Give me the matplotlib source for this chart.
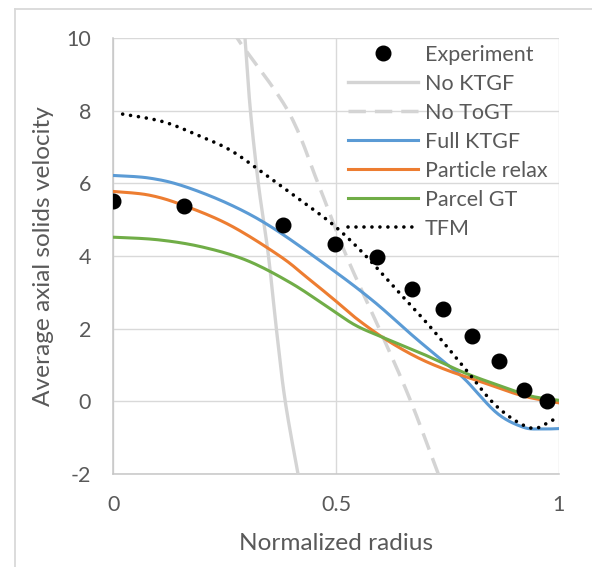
import numpy as np
import matplotlib
matplotlib.use("Agg")
import matplotlib.pyplot as plt
from matplotlib.lines import Line2D

plt.rcParams['font.family'] = ['Lato', 'DejaVu Sans']

# ---------------- data ----------------
exp_x = [0.0, 0.159, 0.381, 0.498, 0.591, 0.670, 0.741, 0.806, 0.866, 0.922, 0.974]
exp_y = [5.51, 5.39, 4.85, 4.34, 3.98, 3.10, 2.54, 1.79, 1.10, 0.32, 0.02]

no_ktgf_x = [0.294, 0.296, 0.308, 0.326, 0.348, 0.367, 0.386, 0.415, 0.421]
no_ktgf_y = [10.4, 9.95, 7.98, 5.96, 4.04, 1.90, 0.0, -2.02, -2.4]

no_togt_x = [0.275, 0.281, 0.393, 0.461, 0.522, 0.603, 0.668, 0.730, 0.742]
no_togt_y = [10.2, 9.95, 7.98, 5.96, 4.04, 1.84, 0.0, -2.02, -2.4]

full_x = [0.0, 0.08, 0.157, 0.262, 0.359, 0.487, 0.584, 0.674, 0.749, 0.79, 0.861, 0.920, 0.96, 1.0]
full_y = [6.22, 6.15, 5.93, 5.42, 4.77, 3.67, 2.76, 1.79, 1.02, 0.60, -0.32, -0.71, -0.76, -0.75]

relax_x = [0.0, 0.08, 0.157, 0.262, 0.374, 0.434, 0.494, 0.546, 0.61, 0.681, 0.749, 0.823, 0.920, 1.0]
relax_y = [5.78, 5.68, 5.40, 4.85, 4.00, 3.42, 2.82, 2.28, 1.72, 1.22, 0.86, 0.55, 0.15, -0.04]

parcel_x = [0.0, 0.1, 0.2, 0.3, 0.4, 0.487, 0.546, 0.614, 0.696, 0.786, 0.861, 0.936, 1.0]
parcel_y = [4.52, 4.45, 4.25, 3.88, 3.25, 2.55, 2.08, 1.72, 1.30, 0.80, 0.46, 0.15, 0.03]

tfm_x = [0.021, 0.112, 0.195, 0.265, 0.344, 0.419, 0.494, 0.561, 0.636, 0.711, 0.786, 0.861, 0.936, 0.981, 1.0]
tfm_y = [7.91, 7.70, 7.30, 6.90, 6.22, 5.55, 4.86, 4.08, 3.07, 2.06, 0.96, -0.14, -0.73, -0.55, -0.41]

labels = ["Experiment", "No KTGF", "No ToGT", "Full KTGF", "Particle relax", "Parcel GT", "TFM"]
x_ticks = [0, 0.5, 1]
x_tick_labels = ["0", "0.5", "1"]
y_ticks = [-2, 0, 2, 4, 6, 8, 10]
x_label = "Normalized radius"
y_label = "Average axial solids velocity"


def smooth(xs, ys, n=16):
    """Catmull-Rom rendering of a smoothed line through the given points."""
    p = np.column_stack([xs, ys]).astype(float)
    p = np.vstack([p[0], p, p[-1]])
    out = []
    t = np.linspace(0, 1, n, endpoint=False)
    for i in range(1, len(p) - 2):
        p0, p1, p2, p3 = p[i - 1], p[i], p[i + 1], p[i + 2]
        tt = t[:, None]
        seg = 0.5 * ((2 * p1) + (-p0 + p2) * tt + (2 * p0 - 5 * p1 + 4 * p2 - p3) * tt ** 2
                     + (-p0 + 3 * p1 - 3 * p2 + p3) * tt ** 3)
        out.append(seg)
    out.append(p[-2][None, :])
    out = np.vstack(out)
    return out[:, 0], out[:, 1]


W, H = 592, 567
fig = plt.figure(figsize=(W / 100, H / 100), dpi=100)
ax_l, ax_r, ax_t, ax_b = 113.3, 558.7, 38.2, 474.0
ax = fig.add_axes([ax_l / W, 1 - ax_b / H, (ax_r - ax_l) / W, (ax_b - ax_t) / H])

grid_c = "#d9d9d9"
txt_c = "#595959"
gray_line = "#d4d4d4"
fs = 15.5
fs_title = 17.6

ax.set_xlim(0, 1)
ax.set_ylim(-2, 10)
ax.set_xticks(x_ticks)
ax.set_xticklabels(x_tick_labels)
ax.set_yticks(y_ticks)
ax.set_yticklabels([str(v) for v in y_ticks])
ax.grid(True, color=grid_c, linewidth=1.0, zorder=0)
ax.set_axisbelow(True)
for s in ["top", "right"]:
    ax.spines[s].set_visible(False)
for s in ["left", "bottom"]:
    ax.spines[s].set_color("#c6c6c6")
    ax.spines[s].set_linewidth(1.1)
ax.tick_params(axis="both", length=0, labelsize=fs, labelcolor=txt_c)
ax.tick_params(axis="x", pad=15)
ax.tick_params(axis="y", pad=16)

lw = 2.2
h_exp, = ax.plot(exp_x, exp_y, 'o', color='black', markersize=10.5, zorder=6, label=labels[0])
sx, sy = smooth(no_ktgf_x, no_ktgf_y)
h1, = ax.plot(sx, sy, color=gray_line, lw=2.4, zorder=3, label=labels[1])
sx, sy = smooth(no_togt_x, no_togt_y)
h2, = ax.plot(sx, sy, color=gray_line, lw=2.5, linestyle=(0, (5.0, 2.6)), zorder=3, label=labels[2])
sx, sy = smooth(full_x, full_y)
h3, = ax.plot(sx, sy, color="#5b9bd5", lw=lw, zorder=4, label=labels[3])
sx, sy = smooth(relax_x, relax_y)
h4, = ax.plot(sx, sy, color="#ed7d31", lw=lw, zorder=4, label=labels[4])
sx, sy = smooth(parcel_x, parcel_y)
h5, = ax.plot(sx, sy, color="#70ad47", lw=lw, zorder=4, label=labels[5])
sx, sy = smooth(tfm_x, tfm_y)
h6, = ax.plot(sx, sy, color="black", lw=2.6, linestyle=(0, (0.01, 2.2)),
              dash_capstyle='round', zorder=5, label=labels[6])

ax.set_xlabel(x_label, fontsize=fs_title, color=txt_c)
ax.set_ylabel(y_label, fontsize=fs_title, color=txt_c)
ax.xaxis.set_label_coords(0.5, -0.136)
ax.yaxis.set_label_coords(-0.134, 0.5)

leg = ax.legend(handles=[h_exp, h1, h2, h3, h4, h5, h6], loc="upper left",
                bbox_to_anchor=(0.527, 0.985), frameon=False, fontsize=fs,
                handlelength=3.25, handletextpad=0.33, labelspacing=0.42,
                borderpad=0, borderaxespad=0, numpoints=1)
for t in leg.get_texts():
    t.set_color(txt_c)

# chart-area border (top and left edges visible in the reference)
fig.add_artist(Line2D([15 / W, 15 / W], [0, 1 - 9 / H], color=grid_c, lw=1.3,
                      transform=fig.transFigure))
fig.add_artist(Line2D([15 / W, 1], [1 - 9 / H, 1 - 9 / H], color=grid_c, lw=1.3,
                      transform=fig.transFigure))

fig.savefig("out.png", dpi=100)
